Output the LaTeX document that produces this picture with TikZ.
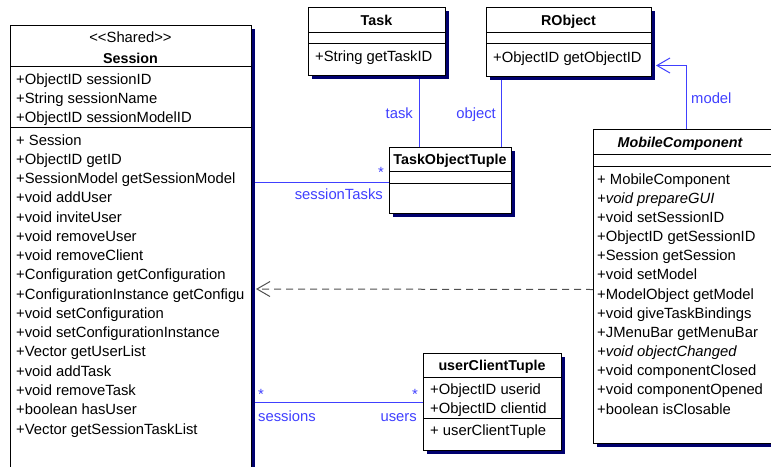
\documentclass[tikz,border=0pt]{standalone}
\usepackage{fontspec}
\setmainfont{Liberation Sans}
\usetikzlibrary{arrows.meta,shadows}
\definecolor{linkblue}{RGB}{64,64,255}
\definecolor{shadownavy}{RGB}{0,0,110}
\definecolor{deplink}{RGB}{80,80,80}
\begin{document}
\begin{tikzpicture}[x=1pt,y=-1pt,
  cls/.style={draw=black, fill=white, line width=1pt, rectangle, anchor=north west, inner sep=0pt,
    drop shadow={shadow xshift=3pt, shadow yshift=-3pt, fill=shadownavy, opacity=1}},
  txt/.style={inner sep=0pt, anchor=base west, font=\fontsize{14.8}{17}\selectfont},
  itxt/.style={txt, font=\fontsize{14.8}{17}\selectfont\itshape},
  ttl/.style={inner sep=0pt, anchor=base, font=\fontsize{14.3}{17}\selectfont\bfseries},
  stereo/.style={inner sep=0pt, anchor=base, font=\fontsize{14.8}{17}\selectfont},
  lbl/.style={inner sep=0pt, text=linkblue, font=\fontsize{14.8}{17}\selectfont},
  assoc/.style={draw=linkblue, line width=1pt},
  divider/.style={draw=black, line width=1pt},
  openhead/.style={-{Straight Barb[length=13pt, width=15pt, line width=1pt]}},
]
\useasboundingbox (0,0) rectangle (771,466);
\clip (0,0) rectangle (771,466);
\fill[white] (0,0) rectangle (771,466);

% ---------- Session ----------
\node[cls, minimum width=241pt, minimum height=460pt] (session) at (10,25) {};
\draw[divider] (session.west |- 0,66) -- (session.east |- 0,66);
\draw[divider] (session.west |- 0,127) -- (session.east |- 0,127);
\node[stereo] (sst) at (130.5,42) {<{}<Shared>{}>};
\node[ttl] (stl) at (130.5,63) {Session};
\node[txt] (sa1) at (16,84) {+ObjectID sessionID};
\node[txt] (sa2) at (16,103.3) {+String sessionName};
\node[txt] (sa3) at (16,122.5) {+ObjectID sessionModelID};
\foreach \t [count=\i from 0] in {+ Session,+ObjectID getID,+SessionModel getSessionModel,+void addUser,+void inviteUser,+void removeUser,+void removeClient,+Configuration getConfiguration,+ConfigurationInstance getConfigu,+void setConfiguration,+void setConfigurationInstance,+Vector getUserList,+void addTask,+void removeTask,+boolean hasUser,+Vector getSessionTaskList}
  \node[txt] (sm\i) at (16,145+19.27*\i) {\t};

% ---------- Task ----------
\node[cls, minimum width=137pt, minimum height=68pt] (task) at (308,7) {};
\draw[divider] (task.west |- 0,32) -- (task.east |- 0,32);
\draw[divider] (task.west |- 0,43) -- (task.east |- 0,43);
\node[ttl] (ttl1) at (376.5,25) {Task};
\node[txt] (tm1) at (315,61) {+String getTaskID};

% ---------- RObject ----------
\node[cls, minimum width=165pt, minimum height=69pt] (robj) at (486,7) {};
\draw[divider] (robj.west |- 0,32) -- (robj.east |- 0,32);
\draw[divider] (robj.west |- 0,43) -- (robj.east |- 0,43);
\node[ttl] (rtl) at (568.5,25) {RObject};
\node[txt] (rm1) at (493,62) {+ObjectID getObjectID};

% ---------- TaskObjectTuple ----------
\node[cls, minimum width=122pt, minimum height=66pt] (tot) at (389,147) {};
\draw[divider] (tot.west |- 0,171) -- (tot.east |- 0,171);
\draw[divider] (tot.west |- 0,183) -- (tot.east |- 0,183);
\node[ttl] (totl) at (450,164) {TaskObjectTuple};

% ---------- MobileComponent ----------
\node[cls, minimum width=200pt, minimum height=314pt] (mc) at (593,129) {};
\draw[divider] (mc.west |- 0,154) -- (mc.east |- 0,154);
\draw[divider] (mc.west |- 0,166) -- (mc.east |- 0,166);
\node[ttl, font=\fontsize{14.3}{17}\selectfont\bfseries\itshape] (mctl) at (680,147) {MobileComponent};
\node[txt] (mm0) at (597,184) {+ MobileComponent};
\node[itxt] (mm1) at (597,184+19.17) {+void prepareGUI};
\node[txt] (mm2) at (597,184+19.17*2) {+void setSessionID};
\node[txt] (mm3) at (597,184+19.17*3) {+ObjectID getSessionID};
\node[txt] (mm4) at (597,184+19.17*4) {+Session getSession};
\node[txt] (mm5) at (597,184+19.17*5) {+void setModel};
\node[txt] (mm6) at (597,184+19.17*6) {+ModelObject getModel};
\node[txt] (mm7) at (597,184+19.17*7) {+void giveTaskBindings};
\node[txt] (mm8) at (597,184+19.17*8) {+JMenuBar getMenuBar};
\node[itxt] (mm9) at (597,184+19.17*9) {+void objectChanged};
\node[txt] (mm10) at (597,184+19.17*10) {+void componentClosed};
\node[txt] (mm11) at (597,184+19.17*11) {+void componentOpened};
\node[txt] (mm12) at (597,184+19.17*12) {+boolean isClosable};

% ---------- userClientTuple ----------
\node[cls, minimum width=138pt, minimum height=97pt] (uct) at (423,353) {};
\draw[divider] (uct.west |- 0,377) -- (uct.east |- 0,377);
\draw[divider] (uct.west |- 0,418) -- (uct.east |- 0,418);
\node[ttl] (uctl) at (492,370) {userClientTuple};
\node[txt] (ua1) at (430,394.5) {+ObjectID userid};
\node[txt] (ua2) at (430,413) {+ObjectID clientid};
\node[txt] (um1) at (430,435) {+ userClientTuple};

% ---------- connectors ----------
% Session -- TaskObjectTuple (sessionTasks)
\draw[assoc] ([xshift=3pt,yshift=-2pt]session.east |- tot.west) -- ([yshift=-2pt]tot.west);
\node[lbl, anchor=base east] (l-st) at (383,199) {sessionTasks};
\node[lbl, anchor=base east] (l-st-m) at (384,177) {*};
% Task -- TaskObjectTuple
\draw[assoc] ([xshift=30pt]tot.north west) -- ([xshift=30pt,yshift=-3pt]tot.north west |- task.south);
\node[lbl, anchor=base east] (l-task) at (413,118) {task};
% RObject -- TaskObjectTuple
\draw[assoc] ([xshift=112pt]tot.north west) -- ([xshift=112pt,yshift=-3pt]tot.north west |- robj.south);
\node[lbl, anchor=base east] (l-obj) at (496,118) {object};
% MobileComponent -> RObject (model)
\draw[assoc, openhead] ([xshift=93pt]mc.north west) |- ([xshift=4pt,yshift=-23.5pt]robj.east);
\node[lbl, anchor=base west] (l-model) at (691,103) {model};
% MobileComponent ..> Session (dependency)
\draw[draw=deplink, line width=1pt, dash pattern=on 7pt off 5pt, openhead] ([yshift=-3pt]mc.west) -- ([xshift=4pt]session.east |- 0,289);
% Session -- userClientTuple
\draw[assoc] ([xshift=3pt]session.east |- uct.west) -- (uct.west);
\node[lbl, anchor=base west] (l-ss-m) at (258,399) {*};
\node[lbl, anchor=base west] (l-ss) at (258,421) {sessions};
\node[lbl, anchor=base east] (l-us-m) at (418,399) {*};
\node[lbl, anchor=base east] (l-us) at (417,421) {users};
\end{tikzpicture}
\end{document}
